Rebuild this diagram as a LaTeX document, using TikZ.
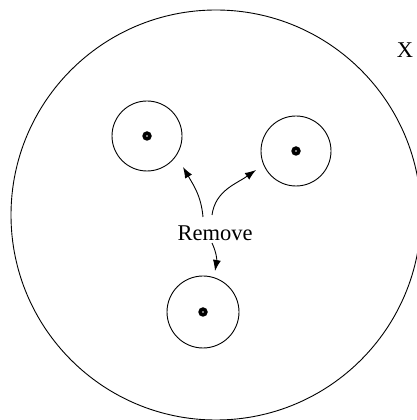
\documentclass[tikz,border=0pt]{standalone}
\usepackage{fontspec}
\setmainfont{Liberation Serif}
\usetikzlibrary{arrows.meta}
\begin{document}
\begin{tikzpicture}[x=1pt,y=1pt,
  ring/.style={draw,line width=0.9pt,circle,inner sep=0pt},
  dot/.style={circle,fill=black,minimum size=9.5pt,inner sep=0pt},
  hole/.style={circle,fill=white,minimum size=1.6pt,inner sep=0pt},
  arr/.style={line width=0.9pt,-{Latex[length=11pt,width=8pt]}},
  lbl/.style={font=\fontsize{22.5}{26}\selectfont}]
\useasboundingbox (0,0) rectangle (416,420);
\node[ring,minimum size=410pt] (big) at (216,205) {};
\node[ring,minimum size=70pt] (c1) at (147,284) {};
\node[ring,minimum size=70pt] (c2) at (296,269) {};
\node[ring,minimum size=72pt] (c3) at (203,108) {};
\node[dot] (d1) at (c1) {};
\node[dot] (d2) at (c2) {};
\node[dot] (d3) at (c3) {};
\node[hole] (h1) at (c1) {};
\node[hole] (h2) at (c2) {};
\node[hole] (h3) at (c3) {};
\node[lbl] (rm) at (215,187) {Remove};
\node[lbl] (x) at (405,370) {X};
\coordinate (s1) at (203,203);
\coordinate (e1) at (183,253);
\coordinate (s2) at (212,205);
\coordinate (e2) at (256,250);
\coordinate (s3) at (212,177);
\coordinate (e3) at (215,149);
\draw[arr] (s1) to[out=95,in=-60] (e1);
\draw[arr] (s2) to[out=82,in=-145] (e2);
\draw[arr] (s3) to[out=-65,in=80] (e3);
\end{tikzpicture}
\end{document}
